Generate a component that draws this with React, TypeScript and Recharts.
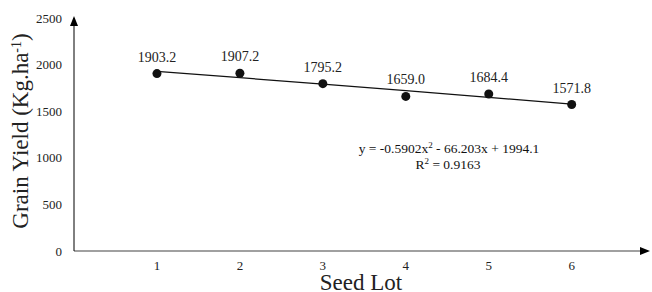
import React from "react";
import {
  ComposedChart,
  Line,
  XAxis,
  YAxis,
  ReferenceDot,
  LabelList,
  Customized,
} from "recharts";

const seedLots = [1, 2, 3, 4, 5, 6];
const grainYield = [1903.2, 1907.2, 1795.2, 1659.0, 1684.4, 1571.8];
const trendYield = [1927.3, 1859.3, 1790.2, 1719.8, 1648.3, 1575.6];
const yTicks = [0, 500, 1000, 1500, 2000, 2500];
const xTicks = [1, 2, 3, 4, 5, 6];
const equationText = "y = -0.5902x";
const equationRest = " - 66.203x + 1994.1";
const r2Label = "R";
const r2Value = " = 0.9163";

const data = seedLots.map((x, i) => ({
  x,
  yield: grainYield[i],
  trend: trendYield[i],
}));

const FONT = "'Liberation Serif', 'Times New Roman', serif";

const UpArrow = (props: any) => {
  const { cx, cy } = props;
  return <polygon points={`${cx},${cy - 2} ${cx - 4},${cy + 8} ${cx + 4},${cy + 8}`} fill="#000" />;
};
const RightArrow = (props: any) => {
  const { cx, cy } = props;
  return <polygon points={`${cx + 2},${cy} ${cx - 8},${cy - 4} ${cx - 8},${cy + 4}`} fill="#000" />;
};

const Equation = () => (
  <g fontFamily={FONT} fontSize={13.5} fill="#111">
    <text x={449} y={153} textAnchor="middle">
      {equationText}
      <tspan baselineShift="super" fontSize={9}>2</tspan>
      {equationRest}
    </text>
    <text x={448} y={169} textAnchor="middle">
      {r2Label}
      <tspan baselineShift="super" fontSize={9}>2</tspan>
      {r2Value}
    </text>
  </g>
);

export default function App() {
  return (
    <div style={{ position: "absolute", left: 0, top: 0, width: 652, height: 292, background: "#fff" }}>
      <ComposedChart
        width={652}
        height={292}
        data={data}
        margin={{ top: 18, right: 4, bottom: 0, left: 0 }}
      >
        <XAxis
          dataKey="x"
          type="number"
          domain={[0, 6.92]}
          ticks={xTicks}
          tickLine={false}
          tickMargin={4}
          height={41}
          axisLine={{ stroke: "#808080", strokeWidth: 1.5 }}
          tick={{ fontFamily: FONT, fontSize: 13, fill: "#222" }}
          label={{
            content: () => (
              <text x={361} y={290} textAnchor="middle" fontFamily={FONT} fontSize={23} fill="#222">
                Seed Lot
              </text>
            ),
          }}
        />
        <YAxis
          type="number"
          domain={[0, 2500]}
          ticks={yTicks}
          width={74}
          tickLine={false}
          tickMargin={6}
          axisLine={{ stroke: "#000", strokeWidth: 1 }}
          tick={{ fontFamily: FONT, fontSize: 13, fill: "#222" }}
          label={{
            content: () => (
              <text
                x={28}
                y={131}
                transform="rotate(-90 28 131)"
                textAnchor="middle"
                fontFamily={FONT}
                fontSize={23}
                fill="#222"
              >
                Grain Yield (Kg.ha
                <tspan baselineShift="super" fontSize={14}>-1</tspan>
                )
              </text>
            ),
          }}
        />
        <Line
          dataKey="trend"
          type="linear"
          stroke="#111"
          strokeWidth={1.3}
          dot={false}
          activeDot={false}
          isAnimationActive={false}
        />
        <Line
          dataKey="yield"
          type="linear"
          stroke="none"
          dot={{ r: 4.5, fill: "#111", stroke: "#111", strokeWidth: 0 }}
          activeDot={false}
          isAnimationActive={false}
        >
          <LabelList
            dataKey="yield"
            position="top"
            offset={12}
            formatter={(v: any) => Number(v).toFixed(1)}
            style={{ fontFamily: FONT, fontSize: 14, fill: "#222" }}
          />
        </Line>
        <ReferenceDot x={0} y={2500} r={0} ifOverflow="visible" shape={UpArrow} />
        <ReferenceDot x={6.92} y={0} r={0} ifOverflow="visible" shape={RightArrow} />
        <Customized component={Equation} />
      </ComposedChart>
    </div>
  );
}
